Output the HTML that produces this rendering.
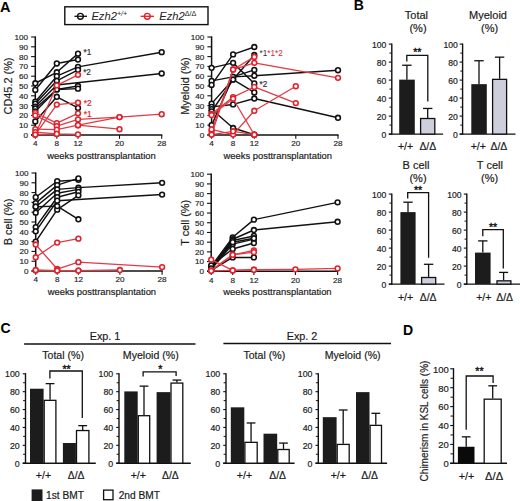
<!DOCTYPE html>
<html><head><meta charset="utf-8"><title>Figure</title>
<style>
html,body{margin:0;padding:0;background:#fff;}
body{width:520px;height:501px;overflow:hidden;}
svg{display:block;font-family:"Liberation Sans",sans-serif;}
</style></head>
<body>
<svg width="520" height="501" viewBox="0 0 520 501">
<rect width="520" height="501" fill="#fff"/>
<line x1="35.3" y1="36.4" x2="35.3" y2="135.6" stroke="#111" stroke-width="1.5"/>
<line x1="31.1" y1="135" x2="162.3" y2="135" stroke="#111" stroke-width="1.4"/>
<line x1="31.1" y1="135" x2="35.3" y2="135" stroke="#111" stroke-width="1.1"/>
<text x="28" y="137.9" font-size="8.1" text-anchor="end" fill="#262626" stroke="#262626" stroke-width="0.18">0</text>
<line x1="31.1" y1="125.2" x2="35.3" y2="125.2" stroke="#111" stroke-width="1.1"/>
<text x="28" y="128.1" font-size="8.1" text-anchor="end" fill="#262626" stroke="#262626" stroke-width="0.18">10</text>
<line x1="31.1" y1="115.4" x2="35.3" y2="115.4" stroke="#111" stroke-width="1.1"/>
<text x="28" y="118.3" font-size="8.1" text-anchor="end" fill="#262626" stroke="#262626" stroke-width="0.18">20</text>
<line x1="31.1" y1="105.6" x2="35.3" y2="105.6" stroke="#111" stroke-width="1.1"/>
<text x="28" y="108.5" font-size="8.1" text-anchor="end" fill="#262626" stroke="#262626" stroke-width="0.18">30</text>
<line x1="31.1" y1="95.8" x2="35.3" y2="95.8" stroke="#111" stroke-width="1.1"/>
<text x="28" y="98.7" font-size="8.1" text-anchor="end" fill="#262626" stroke="#262626" stroke-width="0.18">40</text>
<line x1="31.1" y1="86" x2="35.3" y2="86" stroke="#111" stroke-width="1.1"/>
<text x="28" y="88.9" font-size="8.1" text-anchor="end" fill="#262626" stroke="#262626" stroke-width="0.18">50</text>
<line x1="31.1" y1="76.2" x2="35.3" y2="76.2" stroke="#111" stroke-width="1.1"/>
<text x="28" y="79.1" font-size="8.1" text-anchor="end" fill="#262626" stroke="#262626" stroke-width="0.18">60</text>
<line x1="31.1" y1="66.4" x2="35.3" y2="66.4" stroke="#111" stroke-width="1.1"/>
<text x="28" y="69.3" font-size="8.1" text-anchor="end" fill="#262626" stroke="#262626" stroke-width="0.18">70</text>
<line x1="31.1" y1="56.6" x2="35.3" y2="56.6" stroke="#111" stroke-width="1.1"/>
<text x="28" y="59.5" font-size="8.1" text-anchor="end" fill="#262626" stroke="#262626" stroke-width="0.18">80</text>
<line x1="31.1" y1="46.8" x2="35.3" y2="46.8" stroke="#111" stroke-width="1.1"/>
<text x="28" y="49.7" font-size="8.1" text-anchor="end" fill="#262626" stroke="#262626" stroke-width="0.18">90</text>
<line x1="31.1" y1="37" x2="35.3" y2="37" stroke="#111" stroke-width="1.1"/>
<text x="28" y="39.9" font-size="8.1" text-anchor="end" fill="#262626" stroke="#262626" stroke-width="0.18">100</text>
<line x1="35.3" y1="135" x2="35.3" y2="138.8" stroke="#111" stroke-width="1.1"/>
<text x="35.3" y="146.3" font-size="8.1" text-anchor="middle" fill="#262626" stroke="#262626" stroke-width="0.18">4</text>
<line x1="56.8" y1="135" x2="56.8" y2="138.8" stroke="#111" stroke-width="1.1"/>
<text x="56.8" y="146.3" font-size="8.1" text-anchor="middle" fill="#262626" stroke="#262626" stroke-width="0.18">8</text>
<line x1="78" y1="135" x2="78" y2="138.8" stroke="#111" stroke-width="1.1"/>
<text x="78" y="146.3" font-size="8.1" text-anchor="middle" fill="#262626" stroke="#262626" stroke-width="0.18">12</text>
<line x1="119.5" y1="135" x2="119.5" y2="138.8" stroke="#111" stroke-width="1.1"/>
<text x="119.5" y="146.3" font-size="8.1" text-anchor="middle" fill="#262626" stroke="#262626" stroke-width="0.18">20</text>
<line x1="161.7" y1="135" x2="161.7" y2="138.8" stroke="#111" stroke-width="1.1"/>
<text x="161.7" y="146.3" font-size="8.1" text-anchor="middle" fill="#262626" stroke="#262626" stroke-width="0.18">28</text>
<text x="101.5" y="159.1" font-size="9.4" text-anchor="middle" fill="#1a1a1a" stroke="#1a1a1a" stroke-width="0.18">weeks posttransplantation</text>
<text x="12" y="86" font-size="10.9" text-anchor="middle" fill="#1a1a1a" stroke="#1a1a1a" stroke-width="0.18" transform="rotate(-90 12 86)">CD45.2 (%)</text>
<path d="M35.3,89.92 L56.8,63.46 L78,59.54" fill="none" stroke="#111" stroke-width="1.45" stroke-linejoin="round"/>
<path d="M35.3,83.26 L56.8,72.28 L78,53.66" fill="none" stroke="#111" stroke-width="1.45" stroke-linejoin="round"/>
<path d="M35.3,101.68 L56.8,76.2 L78,66.89 L161.7,52.19" fill="none" stroke="#111" stroke-width="1.45" stroke-linejoin="round"/>
<path d="M35.3,103.64 L56.8,80.81 L78,69.83" fill="none" stroke="#111" stroke-width="1.45" stroke-linejoin="round"/>
<path d="M35.3,106.58 L56.8,85.02 L161.7,73.46" fill="none" stroke="#111" stroke-width="1.45" stroke-linejoin="round"/>
<path d="M35.3,108.54 L56.8,89.43 L78,86" fill="none" stroke="#111" stroke-width="1.45" stroke-linejoin="round"/>
<path d="M35.3,111.48 L56.8,89.43 L78,88.65" fill="none" stroke="#111" stroke-width="1.45" stroke-linejoin="round"/>
<path d="M35.3,121.48 L56.8,96.78 L78,107.95" fill="none" stroke="#111" stroke-width="1.45" stroke-linejoin="round"/>
<circle cx="35.3" cy="89.92" r="2.4" fill="#fff" stroke="#111" stroke-width="1.55"/>
<circle cx="56.8" cy="63.46" r="2.4" fill="#fff" stroke="#111" stroke-width="1.55"/>
<circle cx="78" cy="59.54" r="2.4" fill="#fff" stroke="#111" stroke-width="1.55"/>
<circle cx="35.3" cy="83.26" r="2.4" fill="#fff" stroke="#111" stroke-width="1.55"/>
<circle cx="56.8" cy="72.28" r="2.4" fill="#fff" stroke="#111" stroke-width="1.55"/>
<circle cx="78" cy="53.66" r="2.4" fill="#fff" stroke="#111" stroke-width="1.55"/>
<circle cx="35.3" cy="101.68" r="2.4" fill="#fff" stroke="#111" stroke-width="1.55"/>
<circle cx="56.8" cy="76.2" r="2.4" fill="#fff" stroke="#111" stroke-width="1.55"/>
<circle cx="78" cy="66.89" r="2.4" fill="#fff" stroke="#111" stroke-width="1.55"/>
<circle cx="161.7" cy="52.19" r="2.4" fill="#fff" stroke="#111" stroke-width="1.55"/>
<circle cx="35.3" cy="103.64" r="2.4" fill="#fff" stroke="#111" stroke-width="1.55"/>
<circle cx="56.8" cy="80.81" r="2.4" fill="#fff" stroke="#111" stroke-width="1.55"/>
<circle cx="78" cy="69.83" r="2.4" fill="#fff" stroke="#111" stroke-width="1.55"/>
<circle cx="35.3" cy="106.58" r="2.4" fill="#fff" stroke="#111" stroke-width="1.55"/>
<circle cx="56.8" cy="85.02" r="2.4" fill="#fff" stroke="#111" stroke-width="1.55"/>
<circle cx="161.7" cy="73.46" r="2.4" fill="#fff" stroke="#111" stroke-width="1.55"/>
<circle cx="35.3" cy="108.54" r="2.4" fill="#fff" stroke="#111" stroke-width="1.55"/>
<circle cx="56.8" cy="89.43" r="2.4" fill="#fff" stroke="#111" stroke-width="1.55"/>
<circle cx="78" cy="86" r="2.4" fill="#fff" stroke="#111" stroke-width="1.55"/>
<circle cx="35.3" cy="111.48" r="2.4" fill="#fff" stroke="#111" stroke-width="1.55"/>
<circle cx="56.8" cy="89.43" r="2.4" fill="#fff" stroke="#111" stroke-width="1.55"/>
<circle cx="78" cy="88.65" r="2.4" fill="#fff" stroke="#111" stroke-width="1.55"/>
<circle cx="35.3" cy="121.48" r="2.4" fill="#fff" stroke="#111" stroke-width="1.55"/>
<circle cx="56.8" cy="96.78" r="2.4" fill="#fff" stroke="#111" stroke-width="1.55"/>
<circle cx="78" cy="107.95" r="2.4" fill="#fff" stroke="#111" stroke-width="1.55"/>
<path d="M35.3,134.61 L56.8,85.41 L78,74.83" fill="none" stroke="#e23a44" stroke-width="1.3" stroke-linejoin="round"/>
<path d="M35.3,134.61 L56.8,104.62 L78,102.66" fill="none" stroke="#e23a44" stroke-width="1.3" stroke-linejoin="round"/>
<path d="M35.3,112.95 L56.8,123.14 L78,113.34" fill="none" stroke="#e23a44" stroke-width="1.3" stroke-linejoin="round"/>
<path d="M35.3,115.4 L56.8,126.18 L78,119.42 L119.5,117.07 L161.7,114.22" fill="none" stroke="#e23a44" stroke-width="1.3" stroke-linejoin="round"/>
<path d="M35.3,129.12 L56.8,129.71 L78,125.2 L119.5,129.22" fill="none" stroke="#e23a44" stroke-width="1.3" stroke-linejoin="round"/>
<path d="M78,125.2 L119.5,117.07" fill="none" stroke="#e23a44" stroke-width="1.3" stroke-linejoin="round"/>
<path d="M35.3,132.06 L56.8,133.92 L78,134.41" fill="none" stroke="#e23a44" stroke-width="1.3" stroke-linejoin="round"/>
<path d="M35.3,134.61 L56.8,133.92" fill="none" stroke="#e23a44" stroke-width="1.3" stroke-linejoin="round"/>
<circle cx="35.3" cy="134.61" r="2.4" fill="#fff" stroke="#e0222c" stroke-width="1.55"/>
<circle cx="56.8" cy="85.41" r="2.4" fill="#fff" stroke="#e0222c" stroke-width="1.55"/>
<circle cx="78" cy="74.83" r="2.4" fill="#fff" stroke="#e0222c" stroke-width="1.55"/>
<circle cx="35.3" cy="134.61" r="2.4" fill="#fff" stroke="#e0222c" stroke-width="1.55"/>
<circle cx="56.8" cy="104.62" r="2.4" fill="#fff" stroke="#e0222c" stroke-width="1.55"/>
<circle cx="78" cy="102.66" r="2.4" fill="#fff" stroke="#e0222c" stroke-width="1.55"/>
<circle cx="35.3" cy="112.95" r="2.4" fill="#fff" stroke="#e0222c" stroke-width="1.55"/>
<circle cx="56.8" cy="123.14" r="2.4" fill="#fff" stroke="#e0222c" stroke-width="1.55"/>
<circle cx="78" cy="113.34" r="2.4" fill="#fff" stroke="#e0222c" stroke-width="1.55"/>
<circle cx="35.3" cy="115.4" r="2.4" fill="#fff" stroke="#e0222c" stroke-width="1.55"/>
<circle cx="56.8" cy="126.18" r="2.4" fill="#fff" stroke="#e0222c" stroke-width="1.55"/>
<circle cx="78" cy="119.42" r="2.4" fill="#fff" stroke="#e0222c" stroke-width="1.55"/>
<circle cx="119.5" cy="117.07" r="2.4" fill="#fff" stroke="#e0222c" stroke-width="1.55"/>
<circle cx="161.7" cy="114.22" r="2.4" fill="#fff" stroke="#e0222c" stroke-width="1.55"/>
<circle cx="35.3" cy="129.12" r="2.4" fill="#fff" stroke="#e0222c" stroke-width="1.55"/>
<circle cx="56.8" cy="129.71" r="2.4" fill="#fff" stroke="#e0222c" stroke-width="1.55"/>
<circle cx="78" cy="125.2" r="2.4" fill="#fff" stroke="#e0222c" stroke-width="1.55"/>
<circle cx="119.5" cy="129.22" r="2.4" fill="#fff" stroke="#e0222c" stroke-width="1.55"/>
<circle cx="78" cy="125.2" r="2.4" fill="#fff" stroke="#e0222c" stroke-width="1.55"/>
<circle cx="119.5" cy="117.07" r="2.4" fill="#fff" stroke="#e0222c" stroke-width="1.55"/>
<circle cx="35.3" cy="132.06" r="2.4" fill="#fff" stroke="#e0222c" stroke-width="1.55"/>
<circle cx="56.8" cy="133.92" r="2.4" fill="#fff" stroke="#e0222c" stroke-width="1.55"/>
<circle cx="78" cy="134.41" r="2.4" fill="#fff" stroke="#e0222c" stroke-width="1.55"/>
<circle cx="35.3" cy="134.61" r="2.4" fill="#fff" stroke="#e0222c" stroke-width="1.55"/>
<circle cx="56.8" cy="133.92" r="2.4" fill="#fff" stroke="#e0222c" stroke-width="1.55"/>
<text x="83.6" y="54.56" font-size="8.2" text-anchor="start" fill="#333" stroke="#333" stroke-width="0.18">*1</text>
<text x="83.2" y="75.3" font-size="8.2" text-anchor="start" fill="#333" stroke="#333" stroke-width="0.18">*2</text>
<text x="83.8" y="106.16" font-size="8.4" text-anchor="start" fill="#e0222c" stroke="#e0222c" stroke-width="0.18">*2</text>
<text x="83.8" y="116.84" font-size="8.4" text-anchor="start" fill="#e0222c" stroke="#e0222c" stroke-width="0.18">*1</text>
<line x1="211.6" y1="36.4" x2="211.6" y2="135.6" stroke="#111" stroke-width="1.5"/>
<line x1="207.4" y1="135" x2="338.6" y2="135" stroke="#111" stroke-width="1.4"/>
<line x1="207.4" y1="135" x2="211.6" y2="135" stroke="#111" stroke-width="1.1"/>
<text x="204.3" y="137.9" font-size="8.1" text-anchor="end" fill="#262626" stroke="#262626" stroke-width="0.18">0</text>
<line x1="207.4" y1="125.2" x2="211.6" y2="125.2" stroke="#111" stroke-width="1.1"/>
<text x="204.3" y="128.1" font-size="8.1" text-anchor="end" fill="#262626" stroke="#262626" stroke-width="0.18">10</text>
<line x1="207.4" y1="115.4" x2="211.6" y2="115.4" stroke="#111" stroke-width="1.1"/>
<text x="204.3" y="118.3" font-size="8.1" text-anchor="end" fill="#262626" stroke="#262626" stroke-width="0.18">20</text>
<line x1="207.4" y1="105.6" x2="211.6" y2="105.6" stroke="#111" stroke-width="1.1"/>
<text x="204.3" y="108.5" font-size="8.1" text-anchor="end" fill="#262626" stroke="#262626" stroke-width="0.18">30</text>
<line x1="207.4" y1="95.8" x2="211.6" y2="95.8" stroke="#111" stroke-width="1.1"/>
<text x="204.3" y="98.7" font-size="8.1" text-anchor="end" fill="#262626" stroke="#262626" stroke-width="0.18">40</text>
<line x1="207.4" y1="86" x2="211.6" y2="86" stroke="#111" stroke-width="1.1"/>
<text x="204.3" y="88.9" font-size="8.1" text-anchor="end" fill="#262626" stroke="#262626" stroke-width="0.18">50</text>
<line x1="207.4" y1="76.2" x2="211.6" y2="76.2" stroke="#111" stroke-width="1.1"/>
<text x="204.3" y="79.1" font-size="8.1" text-anchor="end" fill="#262626" stroke="#262626" stroke-width="0.18">60</text>
<line x1="207.4" y1="66.4" x2="211.6" y2="66.4" stroke="#111" stroke-width="1.1"/>
<text x="204.3" y="69.3" font-size="8.1" text-anchor="end" fill="#262626" stroke="#262626" stroke-width="0.18">70</text>
<line x1="207.4" y1="56.6" x2="211.6" y2="56.6" stroke="#111" stroke-width="1.1"/>
<text x="204.3" y="59.5" font-size="8.1" text-anchor="end" fill="#262626" stroke="#262626" stroke-width="0.18">80</text>
<line x1="207.4" y1="46.8" x2="211.6" y2="46.8" stroke="#111" stroke-width="1.1"/>
<text x="204.3" y="49.7" font-size="8.1" text-anchor="end" fill="#262626" stroke="#262626" stroke-width="0.18">90</text>
<line x1="207.4" y1="37" x2="211.6" y2="37" stroke="#111" stroke-width="1.1"/>
<text x="204.3" y="39.9" font-size="8.1" text-anchor="end" fill="#262626" stroke="#262626" stroke-width="0.18">100</text>
<line x1="211.6" y1="135" x2="211.6" y2="138.8" stroke="#111" stroke-width="1.1"/>
<text x="211.6" y="146.3" font-size="8.1" text-anchor="middle" fill="#262626" stroke="#262626" stroke-width="0.18">4</text>
<line x1="233.1" y1="135" x2="233.1" y2="138.8" stroke="#111" stroke-width="1.1"/>
<text x="233.1" y="146.3" font-size="8.1" text-anchor="middle" fill="#262626" stroke="#262626" stroke-width="0.18">8</text>
<line x1="254.3" y1="135" x2="254.3" y2="138.8" stroke="#111" stroke-width="1.1"/>
<text x="254.3" y="146.3" font-size="8.1" text-anchor="middle" fill="#262626" stroke="#262626" stroke-width="0.18">12</text>
<line x1="295.8" y1="135" x2="295.8" y2="138.8" stroke="#111" stroke-width="1.1"/>
<text x="295.8" y="146.3" font-size="8.1" text-anchor="middle" fill="#262626" stroke="#262626" stroke-width="0.18">20</text>
<line x1="338" y1="135" x2="338" y2="138.8" stroke="#111" stroke-width="1.1"/>
<text x="338" y="146.3" font-size="8.1" text-anchor="middle" fill="#262626" stroke="#262626" stroke-width="0.18">28</text>
<text x="277.8" y="159.1" font-size="9.4" text-anchor="middle" fill="#1a1a1a" stroke="#1a1a1a" stroke-width="0.18">weeks posttransplantation</text>
<text x="188.5" y="86" font-size="10.9" text-anchor="middle" fill="#1a1a1a" stroke="#1a1a1a" stroke-width="0.18" transform="rotate(-90 188.5 86)">Myeloid (%)</text>
<path d="M211.6,67.87 L233.1,62.87 L254.3,83.45" fill="none" stroke="#111" stroke-width="1.45" stroke-linejoin="round"/>
<path d="M211.6,80.9 L233.1,76.89 L254.3,75.71 L338,70.22" fill="none" stroke="#111" stroke-width="1.45" stroke-linejoin="round"/>
<path d="M211.6,84.92 L233.1,54.44 L254.3,47" fill="none" stroke="#111" stroke-width="1.45" stroke-linejoin="round"/>
<path d="M211.6,103.64 L233.1,79.53 L254.3,55.03" fill="none" stroke="#111" stroke-width="1.45" stroke-linejoin="round"/>
<path d="M211.6,106.87 L233.1,104.42 L254.3,98.54 L338,117.75" fill="none" stroke="#111" stroke-width="1.45" stroke-linejoin="round"/>
<path d="M211.6,109.23 L233.1,128.04 L254.3,134.71" fill="none" stroke="#111" stroke-width="1.45" stroke-linejoin="round"/>
<path d="M211.6,125.2 L233.1,76.89 L254.3,69.93" fill="none" stroke="#111" stroke-width="1.45" stroke-linejoin="round"/>
<path d="M211.6,111.48 L233.1,79.53 L254.3,92.47" fill="none" stroke="#111" stroke-width="1.45" stroke-linejoin="round"/>
<circle cx="211.6" cy="67.87" r="2.4" fill="#fff" stroke="#111" stroke-width="1.55"/>
<circle cx="233.1" cy="62.87" r="2.4" fill="#fff" stroke="#111" stroke-width="1.55"/>
<circle cx="254.3" cy="83.45" r="2.4" fill="#fff" stroke="#111" stroke-width="1.55"/>
<circle cx="211.6" cy="80.9" r="2.4" fill="#fff" stroke="#111" stroke-width="1.55"/>
<circle cx="233.1" cy="76.89" r="2.4" fill="#fff" stroke="#111" stroke-width="1.55"/>
<circle cx="254.3" cy="75.71" r="2.4" fill="#fff" stroke="#111" stroke-width="1.55"/>
<circle cx="338" cy="70.22" r="2.4" fill="#fff" stroke="#111" stroke-width="1.55"/>
<circle cx="211.6" cy="84.92" r="2.4" fill="#fff" stroke="#111" stroke-width="1.55"/>
<circle cx="233.1" cy="54.44" r="2.4" fill="#fff" stroke="#111" stroke-width="1.55"/>
<circle cx="254.3" cy="47" r="2.4" fill="#fff" stroke="#111" stroke-width="1.55"/>
<circle cx="211.6" cy="103.64" r="2.4" fill="#fff" stroke="#111" stroke-width="1.55"/>
<circle cx="233.1" cy="79.53" r="2.4" fill="#fff" stroke="#111" stroke-width="1.55"/>
<circle cx="254.3" cy="55.03" r="2.4" fill="#fff" stroke="#111" stroke-width="1.55"/>
<circle cx="211.6" cy="106.87" r="2.4" fill="#fff" stroke="#111" stroke-width="1.55"/>
<circle cx="233.1" cy="104.42" r="2.4" fill="#fff" stroke="#111" stroke-width="1.55"/>
<circle cx="254.3" cy="98.54" r="2.4" fill="#fff" stroke="#111" stroke-width="1.55"/>
<circle cx="338" cy="117.75" r="2.4" fill="#fff" stroke="#111" stroke-width="1.55"/>
<circle cx="211.6" cy="109.23" r="2.4" fill="#fff" stroke="#111" stroke-width="1.55"/>
<circle cx="233.1" cy="128.04" r="2.4" fill="#fff" stroke="#111" stroke-width="1.55"/>
<circle cx="254.3" cy="134.71" r="2.4" fill="#fff" stroke="#111" stroke-width="1.55"/>
<circle cx="211.6" cy="125.2" r="2.4" fill="#fff" stroke="#111" stroke-width="1.55"/>
<circle cx="233.1" cy="76.89" r="2.4" fill="#fff" stroke="#111" stroke-width="1.55"/>
<circle cx="254.3" cy="69.93" r="2.4" fill="#fff" stroke="#111" stroke-width="1.55"/>
<circle cx="211.6" cy="111.48" r="2.4" fill="#fff" stroke="#111" stroke-width="1.55"/>
<circle cx="233.1" cy="79.53" r="2.4" fill="#fff" stroke="#111" stroke-width="1.55"/>
<circle cx="254.3" cy="92.47" r="2.4" fill="#fff" stroke="#111" stroke-width="1.55"/>
<path d="M211.6,134.61 L233.1,69.54 L254.3,56.89" fill="none" stroke="#e23a44" stroke-width="1.3" stroke-linejoin="round"/>
<path d="M211.6,131.28 L233.1,69.54 L254.3,62.87 L338,77.87" fill="none" stroke="#e23a44" stroke-width="1.3" stroke-linejoin="round"/>
<path d="M211.6,114.03 L233.1,97.07 L254.3,86.98 L295.8,103.05" fill="none" stroke="#e23a44" stroke-width="1.3" stroke-linejoin="round"/>
<path d="M211.6,115.01 L233.1,98.74 L254.3,134.71" fill="none" stroke="#e23a44" stroke-width="1.3" stroke-linejoin="round"/>
<path d="M211.6,129.41 L233.1,134.61 L254.3,110.79 L295.8,86.2" fill="none" stroke="#e23a44" stroke-width="1.3" stroke-linejoin="round"/>
<path d="M211.6,134.61 L233.1,131.28 L254.3,134.71" fill="none" stroke="#e23a44" stroke-width="1.3" stroke-linejoin="round"/>
<circle cx="211.6" cy="134.61" r="2.4" fill="#fff" stroke="#e0222c" stroke-width="1.55"/>
<circle cx="233.1" cy="69.54" r="2.4" fill="#fff" stroke="#e0222c" stroke-width="1.55"/>
<circle cx="254.3" cy="56.89" r="2.4" fill="#fff" stroke="#e0222c" stroke-width="1.55"/>
<circle cx="211.6" cy="131.28" r="2.4" fill="#fff" stroke="#e0222c" stroke-width="1.55"/>
<circle cx="233.1" cy="69.54" r="2.4" fill="#fff" stroke="#e0222c" stroke-width="1.55"/>
<circle cx="254.3" cy="62.87" r="2.4" fill="#fff" stroke="#e0222c" stroke-width="1.55"/>
<circle cx="338" cy="77.87" r="2.4" fill="#fff" stroke="#e0222c" stroke-width="1.55"/>
<circle cx="211.6" cy="114.03" r="2.4" fill="#fff" stroke="#e0222c" stroke-width="1.55"/>
<circle cx="233.1" cy="97.07" r="2.4" fill="#fff" stroke="#e0222c" stroke-width="1.55"/>
<circle cx="254.3" cy="86.98" r="2.4" fill="#fff" stroke="#e0222c" stroke-width="1.55"/>
<circle cx="295.8" cy="103.05" r="2.4" fill="#fff" stroke="#e0222c" stroke-width="1.55"/>
<circle cx="211.6" cy="115.01" r="2.4" fill="#fff" stroke="#e0222c" stroke-width="1.55"/>
<circle cx="233.1" cy="98.74" r="2.4" fill="#fff" stroke="#e0222c" stroke-width="1.55"/>
<circle cx="254.3" cy="134.71" r="2.4" fill="#fff" stroke="#e0222c" stroke-width="1.55"/>
<circle cx="211.6" cy="129.41" r="2.4" fill="#fff" stroke="#e0222c" stroke-width="1.55"/>
<circle cx="233.1" cy="134.61" r="2.4" fill="#fff" stroke="#e0222c" stroke-width="1.55"/>
<circle cx="254.3" cy="110.79" r="2.4" fill="#fff" stroke="#e0222c" stroke-width="1.55"/>
<circle cx="295.8" cy="86.2" r="2.4" fill="#fff" stroke="#e0222c" stroke-width="1.55"/>
<circle cx="211.6" cy="134.61" r="2.4" fill="#fff" stroke="#e0222c" stroke-width="1.55"/>
<circle cx="233.1" cy="131.28" r="2.4" fill="#fff" stroke="#e0222c" stroke-width="1.55"/>
<circle cx="254.3" cy="134.71" r="2.4" fill="#fff" stroke="#e0222c" stroke-width="1.55"/>
<text x="259.5" y="56.18" font-size="8.2" fill="#333">*1<tspan fill="#e0222c">*1*2</tspan></text>
<text x="259.5" y="86.95" font-size="8.2" text-anchor="start" fill="#333" stroke="#333" stroke-width="0.18">*2</text>
<line x1="35.7" y1="172.4" x2="35.7" y2="271.6" stroke="#111" stroke-width="1.5"/>
<line x1="31.5" y1="271" x2="162.7" y2="271" stroke="#111" stroke-width="1.4"/>
<line x1="31.5" y1="271" x2="35.7" y2="271" stroke="#111" stroke-width="1.1"/>
<text x="28.4" y="273.9" font-size="8.1" text-anchor="end" fill="#262626" stroke="#262626" stroke-width="0.18">0</text>
<line x1="31.5" y1="261.2" x2="35.7" y2="261.2" stroke="#111" stroke-width="1.1"/>
<text x="28.4" y="264.1" font-size="8.1" text-anchor="end" fill="#262626" stroke="#262626" stroke-width="0.18">10</text>
<line x1="31.5" y1="251.4" x2="35.7" y2="251.4" stroke="#111" stroke-width="1.1"/>
<text x="28.4" y="254.3" font-size="8.1" text-anchor="end" fill="#262626" stroke="#262626" stroke-width="0.18">20</text>
<line x1="31.5" y1="241.6" x2="35.7" y2="241.6" stroke="#111" stroke-width="1.1"/>
<text x="28.4" y="244.5" font-size="8.1" text-anchor="end" fill="#262626" stroke="#262626" stroke-width="0.18">30</text>
<line x1="31.5" y1="231.8" x2="35.7" y2="231.8" stroke="#111" stroke-width="1.1"/>
<text x="28.4" y="234.7" font-size="8.1" text-anchor="end" fill="#262626" stroke="#262626" stroke-width="0.18">40</text>
<line x1="31.5" y1="222" x2="35.7" y2="222" stroke="#111" stroke-width="1.1"/>
<text x="28.4" y="224.9" font-size="8.1" text-anchor="end" fill="#262626" stroke="#262626" stroke-width="0.18">50</text>
<line x1="31.5" y1="212.2" x2="35.7" y2="212.2" stroke="#111" stroke-width="1.1"/>
<text x="28.4" y="215.1" font-size="8.1" text-anchor="end" fill="#262626" stroke="#262626" stroke-width="0.18">60</text>
<line x1="31.5" y1="202.4" x2="35.7" y2="202.4" stroke="#111" stroke-width="1.1"/>
<text x="28.4" y="205.3" font-size="8.1" text-anchor="end" fill="#262626" stroke="#262626" stroke-width="0.18">70</text>
<line x1="31.5" y1="192.6" x2="35.7" y2="192.6" stroke="#111" stroke-width="1.1"/>
<text x="28.4" y="195.5" font-size="8.1" text-anchor="end" fill="#262626" stroke="#262626" stroke-width="0.18">80</text>
<line x1="31.5" y1="182.8" x2="35.7" y2="182.8" stroke="#111" stroke-width="1.1"/>
<text x="28.4" y="185.7" font-size="8.1" text-anchor="end" fill="#262626" stroke="#262626" stroke-width="0.18">90</text>
<line x1="31.5" y1="173" x2="35.7" y2="173" stroke="#111" stroke-width="1.1"/>
<text x="28.4" y="175.9" font-size="8.1" text-anchor="end" fill="#262626" stroke="#262626" stroke-width="0.18">100</text>
<line x1="35.7" y1="271" x2="35.7" y2="274.8" stroke="#111" stroke-width="1.1"/>
<text x="35.7" y="282.3" font-size="8.1" text-anchor="middle" fill="#262626" stroke="#262626" stroke-width="0.18">4</text>
<line x1="57.2" y1="271" x2="57.2" y2="274.8" stroke="#111" stroke-width="1.1"/>
<text x="57.2" y="282.3" font-size="8.1" text-anchor="middle" fill="#262626" stroke="#262626" stroke-width="0.18">8</text>
<line x1="78.4" y1="271" x2="78.4" y2="274.8" stroke="#111" stroke-width="1.1"/>
<text x="78.4" y="282.3" font-size="8.1" text-anchor="middle" fill="#262626" stroke="#262626" stroke-width="0.18">12</text>
<line x1="119.9" y1="271" x2="119.9" y2="274.8" stroke="#111" stroke-width="1.1"/>
<text x="119.9" y="282.3" font-size="8.1" text-anchor="middle" fill="#262626" stroke="#262626" stroke-width="0.18">20</text>
<line x1="162.1" y1="271" x2="162.1" y2="274.8" stroke="#111" stroke-width="1.1"/>
<text x="162.1" y="282.3" font-size="8.1" text-anchor="middle" fill="#262626" stroke="#262626" stroke-width="0.18">28</text>
<text x="101.9" y="295.1" font-size="9.4" text-anchor="middle" fill="#1a1a1a" stroke="#1a1a1a" stroke-width="0.18">weeks posttransplantation</text>
<text x="12.2" y="222" font-size="10.9" text-anchor="middle" fill="#1a1a1a" stroke="#1a1a1a" stroke-width="0.18" transform="rotate(-90 12.2 222)">B cell (%)</text>
<path d="M35.7,197.21 L57.2,181.23 L78.4,179.86" fill="none" stroke="#111" stroke-width="1.45" stroke-linejoin="round"/>
<path d="M35.7,203.09 L57.2,185.15 L78.4,178.39" fill="none" stroke="#111" stroke-width="1.45" stroke-linejoin="round"/>
<path d="M35.7,206.71 L57.2,189.37 L78.4,187.6 L162.1,182.8" fill="none" stroke="#111" stroke-width="1.45" stroke-linejoin="round"/>
<path d="M35.7,212.69 L57.2,193.19 L78.4,189.37" fill="none" stroke="#111" stroke-width="1.45" stroke-linejoin="round"/>
<path d="M35.7,227.1 L57.2,197.21 L78.4,191.82" fill="none" stroke="#111" stroke-width="1.45" stroke-linejoin="round"/>
<path d="M35.7,231.31 L57.2,200.73 L162.1,194.56" fill="none" stroke="#111" stroke-width="1.45" stroke-linejoin="round"/>
<path d="M35.7,241.6 L57.2,209.65 L78.4,195.34" fill="none" stroke="#111" stroke-width="1.45" stroke-linejoin="round"/>
<path d="M35.7,206.71 L57.2,206.12 L78.4,219.26" fill="none" stroke="#111" stroke-width="1.45" stroke-linejoin="round"/>
<circle cx="35.7" cy="197.21" r="2.4" fill="#fff" stroke="#111" stroke-width="1.55"/>
<circle cx="57.2" cy="181.23" r="2.4" fill="#fff" stroke="#111" stroke-width="1.55"/>
<circle cx="78.4" cy="179.86" r="2.4" fill="#fff" stroke="#111" stroke-width="1.55"/>
<circle cx="35.7" cy="203.09" r="2.4" fill="#fff" stroke="#111" stroke-width="1.55"/>
<circle cx="57.2" cy="185.15" r="2.4" fill="#fff" stroke="#111" stroke-width="1.55"/>
<circle cx="78.4" cy="178.39" r="2.4" fill="#fff" stroke="#111" stroke-width="1.55"/>
<circle cx="35.7" cy="206.71" r="2.4" fill="#fff" stroke="#111" stroke-width="1.55"/>
<circle cx="57.2" cy="189.37" r="2.4" fill="#fff" stroke="#111" stroke-width="1.55"/>
<circle cx="78.4" cy="187.6" r="2.4" fill="#fff" stroke="#111" stroke-width="1.55"/>
<circle cx="162.1" cy="182.8" r="2.4" fill="#fff" stroke="#111" stroke-width="1.55"/>
<circle cx="35.7" cy="212.69" r="2.4" fill="#fff" stroke="#111" stroke-width="1.55"/>
<circle cx="57.2" cy="193.19" r="2.4" fill="#fff" stroke="#111" stroke-width="1.55"/>
<circle cx="78.4" cy="189.37" r="2.4" fill="#fff" stroke="#111" stroke-width="1.55"/>
<circle cx="35.7" cy="227.1" r="2.4" fill="#fff" stroke="#111" stroke-width="1.55"/>
<circle cx="57.2" cy="197.21" r="2.4" fill="#fff" stroke="#111" stroke-width="1.55"/>
<circle cx="78.4" cy="191.82" r="2.4" fill="#fff" stroke="#111" stroke-width="1.55"/>
<circle cx="35.7" cy="231.31" r="2.4" fill="#fff" stroke="#111" stroke-width="1.55"/>
<circle cx="57.2" cy="200.73" r="2.4" fill="#fff" stroke="#111" stroke-width="1.55"/>
<circle cx="162.1" cy="194.56" r="2.4" fill="#fff" stroke="#111" stroke-width="1.55"/>
<circle cx="35.7" cy="241.6" r="2.4" fill="#fff" stroke="#111" stroke-width="1.55"/>
<circle cx="57.2" cy="209.65" r="2.4" fill="#fff" stroke="#111" stroke-width="1.55"/>
<circle cx="78.4" cy="195.34" r="2.4" fill="#fff" stroke="#111" stroke-width="1.55"/>
<circle cx="35.7" cy="206.71" r="2.4" fill="#fff" stroke="#111" stroke-width="1.55"/>
<circle cx="57.2" cy="206.12" r="2.4" fill="#fff" stroke="#111" stroke-width="1.55"/>
<circle cx="78.4" cy="219.26" r="2.4" fill="#fff" stroke="#111" stroke-width="1.55"/>
<path d="M35.7,257.28 L57.2,242.58 L78.4,238.66" fill="none" stroke="#e23a44" stroke-width="1.3" stroke-linejoin="round"/>
<path d="M35.7,244.54 L57.2,269.04 L78.4,262.18 L162.1,267.08" fill="none" stroke="#e23a44" stroke-width="1.3" stroke-linejoin="round"/>
<path d="M35.7,270.61 L57.2,270.61 L78.4,270.61 L119.9,270.02" fill="none" stroke="#e23a44" stroke-width="1.3" stroke-linejoin="round"/>
<path d="M35.7,270.02 L57.2,270.61 L78.4,270.61" fill="none" stroke="#e23a44" stroke-width="1.3" stroke-linejoin="round"/>
<circle cx="35.7" cy="257.28" r="2.4" fill="#fff" stroke="#e0222c" stroke-width="1.55"/>
<circle cx="57.2" cy="242.58" r="2.4" fill="#fff" stroke="#e0222c" stroke-width="1.55"/>
<circle cx="78.4" cy="238.66" r="2.4" fill="#fff" stroke="#e0222c" stroke-width="1.55"/>
<circle cx="35.7" cy="244.54" r="2.4" fill="#fff" stroke="#e0222c" stroke-width="1.55"/>
<circle cx="57.2" cy="269.04" r="2.4" fill="#fff" stroke="#e0222c" stroke-width="1.55"/>
<circle cx="78.4" cy="262.18" r="2.4" fill="#fff" stroke="#e0222c" stroke-width="1.55"/>
<circle cx="162.1" cy="267.08" r="2.4" fill="#fff" stroke="#e0222c" stroke-width="1.55"/>
<circle cx="35.7" cy="270.61" r="2.4" fill="#fff" stroke="#e0222c" stroke-width="1.55"/>
<circle cx="57.2" cy="270.61" r="2.4" fill="#fff" stroke="#e0222c" stroke-width="1.55"/>
<circle cx="78.4" cy="270.61" r="2.4" fill="#fff" stroke="#e0222c" stroke-width="1.55"/>
<circle cx="119.9" cy="270.02" r="2.4" fill="#fff" stroke="#e0222c" stroke-width="1.55"/>
<circle cx="35.7" cy="270.02" r="2.4" fill="#fff" stroke="#e0222c" stroke-width="1.55"/>
<circle cx="57.2" cy="270.61" r="2.4" fill="#fff" stroke="#e0222c" stroke-width="1.55"/>
<circle cx="78.4" cy="270.61" r="2.4" fill="#fff" stroke="#e0222c" stroke-width="1.55"/>
<line x1="211.2" y1="173.6" x2="211.2" y2="271.9" stroke="#111" stroke-width="1.5"/>
<line x1="207" y1="271.3" x2="338.2" y2="271.3" stroke="#111" stroke-width="1.4"/>
<line x1="207" y1="271.3" x2="211.2" y2="271.3" stroke="#111" stroke-width="1.1"/>
<text x="203.9" y="274.2" font-size="8.1" text-anchor="end" fill="#262626" stroke="#262626" stroke-width="0.18">0</text>
<line x1="207" y1="261.59" x2="211.2" y2="261.59" stroke="#111" stroke-width="1.1"/>
<text x="203.9" y="264.49" font-size="8.1" text-anchor="end" fill="#262626" stroke="#262626" stroke-width="0.18">10</text>
<line x1="207" y1="251.88" x2="211.2" y2="251.88" stroke="#111" stroke-width="1.1"/>
<text x="203.9" y="254.78" font-size="8.1" text-anchor="end" fill="#262626" stroke="#262626" stroke-width="0.18">20</text>
<line x1="207" y1="242.17" x2="211.2" y2="242.17" stroke="#111" stroke-width="1.1"/>
<text x="203.9" y="245.07" font-size="8.1" text-anchor="end" fill="#262626" stroke="#262626" stroke-width="0.18">30</text>
<line x1="207" y1="232.46" x2="211.2" y2="232.46" stroke="#111" stroke-width="1.1"/>
<text x="203.9" y="235.36" font-size="8.1" text-anchor="end" fill="#262626" stroke="#262626" stroke-width="0.18">40</text>
<line x1="207" y1="222.75" x2="211.2" y2="222.75" stroke="#111" stroke-width="1.1"/>
<text x="203.9" y="225.65" font-size="8.1" text-anchor="end" fill="#262626" stroke="#262626" stroke-width="0.18">50</text>
<line x1="207" y1="213.04" x2="211.2" y2="213.04" stroke="#111" stroke-width="1.1"/>
<text x="203.9" y="215.94" font-size="8.1" text-anchor="end" fill="#262626" stroke="#262626" stroke-width="0.18">60</text>
<line x1="207" y1="203.33" x2="211.2" y2="203.33" stroke="#111" stroke-width="1.1"/>
<text x="203.9" y="206.23" font-size="8.1" text-anchor="end" fill="#262626" stroke="#262626" stroke-width="0.18">70</text>
<line x1="207" y1="193.62" x2="211.2" y2="193.62" stroke="#111" stroke-width="1.1"/>
<text x="203.9" y="196.52" font-size="8.1" text-anchor="end" fill="#262626" stroke="#262626" stroke-width="0.18">80</text>
<line x1="207" y1="183.91" x2="211.2" y2="183.91" stroke="#111" stroke-width="1.1"/>
<text x="203.9" y="186.81" font-size="8.1" text-anchor="end" fill="#262626" stroke="#262626" stroke-width="0.18">90</text>
<line x1="207" y1="174.2" x2="211.2" y2="174.2" stroke="#111" stroke-width="1.1"/>
<text x="203.9" y="177.1" font-size="8.1" text-anchor="end" fill="#262626" stroke="#262626" stroke-width="0.18">100</text>
<line x1="211.2" y1="271.3" x2="211.2" y2="275.1" stroke="#111" stroke-width="1.1"/>
<text x="211.2" y="282.6" font-size="8.1" text-anchor="middle" fill="#262626" stroke="#262626" stroke-width="0.18">4</text>
<line x1="232.7" y1="271.3" x2="232.7" y2="275.1" stroke="#111" stroke-width="1.1"/>
<text x="232.7" y="282.6" font-size="8.1" text-anchor="middle" fill="#262626" stroke="#262626" stroke-width="0.18">8</text>
<line x1="253.9" y1="271.3" x2="253.9" y2="275.1" stroke="#111" stroke-width="1.1"/>
<text x="253.9" y="282.6" font-size="8.1" text-anchor="middle" fill="#262626" stroke="#262626" stroke-width="0.18">12</text>
<line x1="295.4" y1="271.3" x2="295.4" y2="275.1" stroke="#111" stroke-width="1.1"/>
<text x="295.4" y="282.6" font-size="8.1" text-anchor="middle" fill="#262626" stroke="#262626" stroke-width="0.18">20</text>
<line x1="337.6" y1="271.3" x2="337.6" y2="275.1" stroke="#111" stroke-width="1.1"/>
<text x="337.6" y="282.6" font-size="8.1" text-anchor="middle" fill="#262626" stroke="#262626" stroke-width="0.18">28</text>
<text x="277.4" y="295.4" font-size="9.4" text-anchor="middle" fill="#1a1a1a" stroke="#1a1a1a" stroke-width="0.18">weeks posttransplantation</text>
<text x="188.5" y="222.75" font-size="10.9" text-anchor="middle" fill="#1a1a1a" stroke="#1a1a1a" stroke-width="0.18" transform="rotate(-90 188.5 222.75)">T cell (%)</text>
<path d="M211.2,266.44 L232.7,237.31 L253.9,219.64 L337.6,202.36" fill="none" stroke="#111" stroke-width="1.45" stroke-linejoin="round"/>
<path d="M211.2,268.39 L232.7,239.26 L253.9,230.03 L337.6,221.78" fill="none" stroke="#111" stroke-width="1.45" stroke-linejoin="round"/>
<path d="M211.2,267.42 L232.7,240.52 L253.9,235.96" fill="none" stroke="#111" stroke-width="1.45" stroke-linejoin="round"/>
<path d="M211.2,269.36 L232.7,244.11 L253.9,239.16" fill="none" stroke="#111" stroke-width="1.45" stroke-linejoin="round"/>
<path d="M211.2,265.47 L232.7,248.97 L253.9,243.04" fill="none" stroke="#111" stroke-width="1.45" stroke-linejoin="round"/>
<path d="M211.2,270.33 L232.7,257.41 L253.9,257.41" fill="none" stroke="#111" stroke-width="1.45" stroke-linejoin="round"/>
<path d="M211.2,268.39 L232.7,242.17 L253.9,238.29" fill="none" stroke="#111" stroke-width="1.45" stroke-linejoin="round"/>
<circle cx="211.2" cy="266.44" r="2.4" fill="#fff" stroke="#111" stroke-width="1.55"/>
<circle cx="232.7" cy="237.31" r="2.4" fill="#fff" stroke="#111" stroke-width="1.55"/>
<circle cx="253.9" cy="219.64" r="2.4" fill="#fff" stroke="#111" stroke-width="1.55"/>
<circle cx="337.6" cy="202.36" r="2.4" fill="#fff" stroke="#111" stroke-width="1.55"/>
<circle cx="211.2" cy="268.39" r="2.4" fill="#fff" stroke="#111" stroke-width="1.55"/>
<circle cx="232.7" cy="239.26" r="2.4" fill="#fff" stroke="#111" stroke-width="1.55"/>
<circle cx="253.9" cy="230.03" r="2.4" fill="#fff" stroke="#111" stroke-width="1.55"/>
<circle cx="337.6" cy="221.78" r="2.4" fill="#fff" stroke="#111" stroke-width="1.55"/>
<circle cx="211.2" cy="267.42" r="2.4" fill="#fff" stroke="#111" stroke-width="1.55"/>
<circle cx="232.7" cy="240.52" r="2.4" fill="#fff" stroke="#111" stroke-width="1.55"/>
<circle cx="253.9" cy="235.96" r="2.4" fill="#fff" stroke="#111" stroke-width="1.55"/>
<circle cx="211.2" cy="269.36" r="2.4" fill="#fff" stroke="#111" stroke-width="1.55"/>
<circle cx="232.7" cy="244.11" r="2.4" fill="#fff" stroke="#111" stroke-width="1.55"/>
<circle cx="253.9" cy="239.16" r="2.4" fill="#fff" stroke="#111" stroke-width="1.55"/>
<circle cx="211.2" cy="265.47" r="2.4" fill="#fff" stroke="#111" stroke-width="1.55"/>
<circle cx="232.7" cy="248.97" r="2.4" fill="#fff" stroke="#111" stroke-width="1.55"/>
<circle cx="253.9" cy="243.04" r="2.4" fill="#fff" stroke="#111" stroke-width="1.55"/>
<circle cx="211.2" cy="270.33" r="2.4" fill="#fff" stroke="#111" stroke-width="1.55"/>
<circle cx="232.7" cy="257.41" r="2.4" fill="#fff" stroke="#111" stroke-width="1.55"/>
<circle cx="253.9" cy="257.41" r="2.4" fill="#fff" stroke="#111" stroke-width="1.55"/>
<circle cx="211.2" cy="268.39" r="2.4" fill="#fff" stroke="#111" stroke-width="1.55"/>
<circle cx="232.7" cy="242.17" r="2.4" fill="#fff" stroke="#111" stroke-width="1.55"/>
<circle cx="253.9" cy="238.29" r="2.4" fill="#fff" stroke="#111" stroke-width="1.55"/>
<path d="M211.2,259.65 L232.7,270.43 L253.9,269.75 L295.4,269.36 L337.6,268.39" fill="none" stroke="#e23a44" stroke-width="1.3" stroke-linejoin="round"/>
<path d="M211.2,270.81 L232.7,254.79 L253.9,250.33" fill="none" stroke="#e23a44" stroke-width="1.3" stroke-linejoin="round"/>
<path d="M211.2,270.33 L232.7,254.79 L253.9,252.17" fill="none" stroke="#e23a44" stroke-width="1.3" stroke-linejoin="round"/>
<path d="M211.2,270.81 L232.7,270.43 L253.9,269.75" fill="none" stroke="#e23a44" stroke-width="1.3" stroke-linejoin="round"/>
<circle cx="211.2" cy="259.65" r="2.4" fill="#fff" stroke="#e0222c" stroke-width="1.55"/>
<circle cx="232.7" cy="270.43" r="2.4" fill="#fff" stroke="#e0222c" stroke-width="1.55"/>
<circle cx="253.9" cy="269.75" r="2.4" fill="#fff" stroke="#e0222c" stroke-width="1.55"/>
<circle cx="295.4" cy="269.36" r="2.4" fill="#fff" stroke="#e0222c" stroke-width="1.55"/>
<circle cx="337.6" cy="268.39" r="2.4" fill="#fff" stroke="#e0222c" stroke-width="1.55"/>
<circle cx="211.2" cy="270.81" r="2.4" fill="#fff" stroke="#e0222c" stroke-width="1.55"/>
<circle cx="232.7" cy="254.79" r="2.4" fill="#fff" stroke="#e0222c" stroke-width="1.55"/>
<circle cx="253.9" cy="250.33" r="2.4" fill="#fff" stroke="#e0222c" stroke-width="1.55"/>
<circle cx="211.2" cy="270.33" r="2.4" fill="#fff" stroke="#e0222c" stroke-width="1.55"/>
<circle cx="232.7" cy="254.79" r="2.4" fill="#fff" stroke="#e0222c" stroke-width="1.55"/>
<circle cx="253.9" cy="252.17" r="2.4" fill="#fff" stroke="#e0222c" stroke-width="1.55"/>
<circle cx="211.2" cy="270.81" r="2.4" fill="#fff" stroke="#e0222c" stroke-width="1.55"/>
<circle cx="232.7" cy="270.43" r="2.4" fill="#fff" stroke="#e0222c" stroke-width="1.55"/>
<circle cx="253.9" cy="269.75" r="2.4" fill="#fff" stroke="#e0222c" stroke-width="1.55"/>
<rect x="64.8" y="6.8" width="143.2" height="17.8" fill="none" stroke="#111" stroke-width="1.4"/>
<line x1="74.4" y1="16.3" x2="87" y2="16.3" stroke="#111" stroke-width="1.3"/>
<circle cx="80.4" cy="16.3" r="2.9" fill="none" stroke="#111" stroke-width="1.4"/>
<text x="91.4" y="20.3" font-size="11.2" font-style="italic" fill="#222">Ezh2<tspan font-size="7.2" dy="-4.3">+/+</tspan></text>
<line x1="140.6" y1="16.3" x2="154" y2="16.3" stroke="#e0222c" stroke-width="1.3"/>
<circle cx="147.3" cy="16.3" r="2.9" fill="none" stroke="#e0222c" stroke-width="1.4"/>
<text x="159.2" y="20.3" font-size="11.2" font-style="italic" fill="#222">Ezh2<tspan font-size="7.2" dy="-4.3" font-style="normal">&#916;/&#916;</tspan></text>
<text x="416.45" y="18.7" font-size="11" text-anchor="middle" fill="#1a1a1a" stroke="#1a1a1a" stroke-width="0.18">Total</text>
<text x="418" y="31.5" font-size="11" text-anchor="middle" fill="#1a1a1a" stroke="#1a1a1a" stroke-width="0.18">(%)</text>
<text x="488" y="18.8" font-size="11" text-anchor="middle" fill="#1a1a1a" stroke="#1a1a1a" stroke-width="0.18">Myeloid</text>
<text x="489.6" y="31.6" font-size="11" text-anchor="middle" fill="#1a1a1a" stroke="#1a1a1a" stroke-width="0.18">(%)</text>
<text x="416" y="168.8" font-size="11" text-anchor="middle" fill="#1a1a1a" stroke="#1a1a1a" stroke-width="0.18">B cell</text>
<text x="418" y="181.6" font-size="11" text-anchor="middle" fill="#1a1a1a" stroke="#1a1a1a" stroke-width="0.18">(%)</text>
<text x="489.9" y="168.8" font-size="11" text-anchor="middle" fill="#1a1a1a" stroke="#1a1a1a" stroke-width="0.18">T cell</text>
<text x="489.6" y="181.6" font-size="11" text-anchor="middle" fill="#1a1a1a" stroke="#1a1a1a" stroke-width="0.18">(%)</text>
<line x1="391.8" y1="43.5" x2="391.8" y2="134.7" stroke="#111" stroke-width="1.4"/>
<line x1="388.8" y1="134.1" x2="443.1" y2="134.1" stroke="#111" stroke-width="1.4"/>
<line x1="388.8" y1="134.1" x2="391.8" y2="134.1" stroke="#111" stroke-width="1.1"/>
<text x="386.4" y="137.54" font-size="8.6" text-anchor="end" fill="#1a1a1a" stroke="#1a1a1a" stroke-width="0.18">0</text>
<line x1="389.5" y1="125.1" x2="391.8" y2="125.1" stroke="#111" stroke-width="1"/>
<line x1="388.8" y1="116.1" x2="391.8" y2="116.1" stroke="#111" stroke-width="1.1"/>
<text x="386.4" y="119.54" font-size="8.6" text-anchor="end" fill="#1a1a1a" stroke="#1a1a1a" stroke-width="0.18">20</text>
<line x1="389.5" y1="107.1" x2="391.8" y2="107.1" stroke="#111" stroke-width="1"/>
<line x1="388.8" y1="98.1" x2="391.8" y2="98.1" stroke="#111" stroke-width="1.1"/>
<text x="386.4" y="101.54" font-size="8.6" text-anchor="end" fill="#1a1a1a" stroke="#1a1a1a" stroke-width="0.18">40</text>
<line x1="389.5" y1="89.1" x2="391.8" y2="89.1" stroke="#111" stroke-width="1"/>
<line x1="388.8" y1="80.1" x2="391.8" y2="80.1" stroke="#111" stroke-width="1.1"/>
<text x="386.4" y="83.54" font-size="8.6" text-anchor="end" fill="#1a1a1a" stroke="#1a1a1a" stroke-width="0.18">60</text>
<line x1="389.5" y1="71.1" x2="391.8" y2="71.1" stroke="#111" stroke-width="1"/>
<line x1="388.8" y1="62.1" x2="391.8" y2="62.1" stroke="#111" stroke-width="1.1"/>
<text x="386.4" y="65.54" font-size="8.6" text-anchor="end" fill="#1a1a1a" stroke="#1a1a1a" stroke-width="0.18">80</text>
<line x1="389.5" y1="53.1" x2="391.8" y2="53.1" stroke="#111" stroke-width="1"/>
<line x1="388.8" y1="44.1" x2="391.8" y2="44.1" stroke="#111" stroke-width="1.1"/>
<text x="386.4" y="47.54" font-size="8.6" text-anchor="end" fill="#1a1a1a" stroke="#1a1a1a" stroke-width="0.18">100</text>
<rect x="399.2" y="79.65" width="15.6" height="54.45" fill="#1c1c1c"/>
<line x1="406.9" y1="79.65" x2="406.9" y2="65.25" stroke="#111" stroke-width="1.3"/>
<line x1="402.2" y1="65.25" x2="411.6" y2="65.25" stroke="#111" stroke-width="1.3"/>
<rect x="420.6" y="118.5" width="14.2" height="15.6" fill="#cdcfdc" stroke="#111" stroke-width="1.3"/>
<line x1="427.7" y1="117.9" x2="427.7" y2="108.45" stroke="#111" stroke-width="1.3"/>
<line x1="423" y1="108.45" x2="432.4" y2="108.45" stroke="#111" stroke-width="1.3"/>
<path d="M406.8,61.6 L406.8,55.3 L427.8,55.3 L427.8,101.5" fill="none" stroke="#111" stroke-width="1.3"/>
<text x="417.3" y="56.4" font-size="10.6" text-anchor="middle" fill="#111" stroke="#111" stroke-width="0.35">**</text>
<text x="405.6" y="150.2" font-size="10.6" text-anchor="middle" fill="#1a1a1a" stroke="#1a1a1a" stroke-width="0.18">+/+</text>
<text x="427.8" y="150.2" font-size="10.4" text-anchor="middle" fill="#1a1a1a" stroke="#1a1a1a" stroke-width="0.18">&#916;/&#916;</text>
<line x1="462.6" y1="43.5" x2="462.6" y2="134.7" stroke="#111" stroke-width="1.4"/>
<line x1="459.6" y1="134.1" x2="515.5" y2="134.1" stroke="#111" stroke-width="1.4"/>
<line x1="459.6" y1="134.1" x2="462.6" y2="134.1" stroke="#111" stroke-width="1.1"/>
<text x="457.8" y="137.54" font-size="8.6" text-anchor="end" fill="#1a1a1a" stroke="#1a1a1a" stroke-width="0.18">0</text>
<line x1="460.3" y1="125.1" x2="462.6" y2="125.1" stroke="#111" stroke-width="1"/>
<line x1="459.6" y1="116.1" x2="462.6" y2="116.1" stroke="#111" stroke-width="1.1"/>
<text x="457.8" y="119.54" font-size="8.6" text-anchor="end" fill="#1a1a1a" stroke="#1a1a1a" stroke-width="0.18">20</text>
<line x1="460.3" y1="107.1" x2="462.6" y2="107.1" stroke="#111" stroke-width="1"/>
<line x1="459.6" y1="98.1" x2="462.6" y2="98.1" stroke="#111" stroke-width="1.1"/>
<text x="457.8" y="101.54" font-size="8.6" text-anchor="end" fill="#1a1a1a" stroke="#1a1a1a" stroke-width="0.18">40</text>
<line x1="460.3" y1="89.1" x2="462.6" y2="89.1" stroke="#111" stroke-width="1"/>
<line x1="459.6" y1="80.1" x2="462.6" y2="80.1" stroke="#111" stroke-width="1.1"/>
<text x="457.8" y="83.54" font-size="8.6" text-anchor="end" fill="#1a1a1a" stroke="#1a1a1a" stroke-width="0.18">60</text>
<line x1="460.3" y1="71.1" x2="462.6" y2="71.1" stroke="#111" stroke-width="1"/>
<line x1="459.6" y1="62.1" x2="462.6" y2="62.1" stroke="#111" stroke-width="1.1"/>
<text x="457.8" y="65.54" font-size="8.6" text-anchor="end" fill="#1a1a1a" stroke="#1a1a1a" stroke-width="0.18">80</text>
<line x1="460.3" y1="53.1" x2="462.6" y2="53.1" stroke="#111" stroke-width="1"/>
<line x1="459.6" y1="44.1" x2="462.6" y2="44.1" stroke="#111" stroke-width="1.1"/>
<text x="457.8" y="47.54" font-size="8.6" text-anchor="end" fill="#1a1a1a" stroke="#1a1a1a" stroke-width="0.18">100</text>
<rect x="471.3" y="84.15" width="15.5" height="49.95" fill="#1c1c1c"/>
<line x1="479" y1="84.15" x2="479" y2="60.75" stroke="#111" stroke-width="1.3"/>
<line x1="474.3" y1="60.75" x2="483.7" y2="60.75" stroke="#111" stroke-width="1.3"/>
<rect x="492.6" y="79.35" width="14" height="54.75" fill="#cdcfdc" stroke="#111" stroke-width="1.3"/>
<line x1="499.6" y1="78.75" x2="499.6" y2="57.15" stroke="#111" stroke-width="1.3"/>
<line x1="494.9" y1="57.15" x2="504.3" y2="57.15" stroke="#111" stroke-width="1.3"/>
<text x="478.3" y="150.2" font-size="10.6" text-anchor="middle" fill="#1a1a1a" stroke="#1a1a1a" stroke-width="0.18">+/+</text>
<text x="498.9" y="150.2" font-size="10.4" text-anchor="middle" fill="#1a1a1a" stroke="#1a1a1a" stroke-width="0.18">&#916;/&#916;</text>
<line x1="391.8" y1="193.5" x2="391.8" y2="284.7" stroke="#111" stroke-width="1.4"/>
<line x1="388.8" y1="284.1" x2="444.5" y2="284.1" stroke="#111" stroke-width="1.4"/>
<line x1="388.8" y1="284.1" x2="391.8" y2="284.1" stroke="#111" stroke-width="1.1"/>
<text x="386.4" y="287.54" font-size="8.6" text-anchor="end" fill="#1a1a1a" stroke="#1a1a1a" stroke-width="0.18">0</text>
<line x1="389.5" y1="275.1" x2="391.8" y2="275.1" stroke="#111" stroke-width="1"/>
<line x1="388.8" y1="266.1" x2="391.8" y2="266.1" stroke="#111" stroke-width="1.1"/>
<text x="386.4" y="269.54" font-size="8.6" text-anchor="end" fill="#1a1a1a" stroke="#1a1a1a" stroke-width="0.18">20</text>
<line x1="389.5" y1="257.1" x2="391.8" y2="257.1" stroke="#111" stroke-width="1"/>
<line x1="388.8" y1="248.1" x2="391.8" y2="248.1" stroke="#111" stroke-width="1.1"/>
<text x="386.4" y="251.54" font-size="8.6" text-anchor="end" fill="#1a1a1a" stroke="#1a1a1a" stroke-width="0.18">40</text>
<line x1="389.5" y1="239.1" x2="391.8" y2="239.1" stroke="#111" stroke-width="1"/>
<line x1="388.8" y1="230.1" x2="391.8" y2="230.1" stroke="#111" stroke-width="1.1"/>
<text x="386.4" y="233.54" font-size="8.6" text-anchor="end" fill="#1a1a1a" stroke="#1a1a1a" stroke-width="0.18">60</text>
<line x1="389.5" y1="221.1" x2="391.8" y2="221.1" stroke="#111" stroke-width="1"/>
<line x1="388.8" y1="212.1" x2="391.8" y2="212.1" stroke="#111" stroke-width="1.1"/>
<text x="386.4" y="215.54" font-size="8.6" text-anchor="end" fill="#1a1a1a" stroke="#1a1a1a" stroke-width="0.18">80</text>
<line x1="389.5" y1="203.1" x2="391.8" y2="203.1" stroke="#111" stroke-width="1"/>
<line x1="388.8" y1="194.1" x2="391.8" y2="194.1" stroke="#111" stroke-width="1.1"/>
<text x="386.4" y="197.54" font-size="8.6" text-anchor="end" fill="#1a1a1a" stroke="#1a1a1a" stroke-width="0.18">100</text>
<rect x="400.4" y="212.1" width="15.2" height="72" fill="#1c1c1c"/>
<line x1="408" y1="212.1" x2="408" y2="202.2" stroke="#111" stroke-width="1.3"/>
<line x1="403.3" y1="202.2" x2="412.7" y2="202.2" stroke="#111" stroke-width="1.3"/>
<rect x="421.6" y="277.5" width="14.1" height="6.6" fill="#cdcfdc" stroke="#111" stroke-width="1.3"/>
<line x1="428.6" y1="276.9" x2="428.6" y2="264.3" stroke="#111" stroke-width="1.3"/>
<line x1="423.9" y1="264.3" x2="433.3" y2="264.3" stroke="#111" stroke-width="1.3"/>
<path d="M407.7,198.5 L407.7,192.7 L428.6,192.7 L428.6,257.8" fill="none" stroke="#111" stroke-width="1.3"/>
<text x="418.1" y="193.6" font-size="10.6" text-anchor="middle" fill="#111" stroke="#111" stroke-width="0.35">**</text>
<text x="405.6" y="300.6" font-size="10.6" text-anchor="middle" fill="#1a1a1a" stroke="#1a1a1a" stroke-width="0.18">+/+</text>
<text x="428.2" y="300.6" font-size="10.4" text-anchor="middle" fill="#1a1a1a" stroke="#1a1a1a" stroke-width="0.18">&#916;/&#916;</text>
<line x1="466.8" y1="193.5" x2="466.8" y2="284.7" stroke="#111" stroke-width="1.4"/>
<line x1="463.8" y1="284.1" x2="520.5" y2="284.1" stroke="#111" stroke-width="1.4"/>
<line x1="463.8" y1="284.1" x2="466.8" y2="284.1" stroke="#111" stroke-width="1.1"/>
<text x="461.5" y="287.54" font-size="8.6" text-anchor="end" fill="#1a1a1a" stroke="#1a1a1a" stroke-width="0.18">0</text>
<line x1="464.5" y1="275.1" x2="466.8" y2="275.1" stroke="#111" stroke-width="1"/>
<line x1="463.8" y1="266.1" x2="466.8" y2="266.1" stroke="#111" stroke-width="1.1"/>
<text x="461.5" y="269.54" font-size="8.6" text-anchor="end" fill="#1a1a1a" stroke="#1a1a1a" stroke-width="0.18">20</text>
<line x1="464.5" y1="257.1" x2="466.8" y2="257.1" stroke="#111" stroke-width="1"/>
<line x1="463.8" y1="248.1" x2="466.8" y2="248.1" stroke="#111" stroke-width="1.1"/>
<text x="461.5" y="251.54" font-size="8.6" text-anchor="end" fill="#1a1a1a" stroke="#1a1a1a" stroke-width="0.18">40</text>
<line x1="464.5" y1="239.1" x2="466.8" y2="239.1" stroke="#111" stroke-width="1"/>
<line x1="463.8" y1="230.1" x2="466.8" y2="230.1" stroke="#111" stroke-width="1.1"/>
<text x="461.5" y="233.54" font-size="8.6" text-anchor="end" fill="#1a1a1a" stroke="#1a1a1a" stroke-width="0.18">60</text>
<line x1="464.5" y1="221.1" x2="466.8" y2="221.1" stroke="#111" stroke-width="1"/>
<line x1="463.8" y1="212.1" x2="466.8" y2="212.1" stroke="#111" stroke-width="1.1"/>
<text x="461.5" y="215.54" font-size="8.6" text-anchor="end" fill="#1a1a1a" stroke="#1a1a1a" stroke-width="0.18">80</text>
<line x1="464.5" y1="203.1" x2="466.8" y2="203.1" stroke="#111" stroke-width="1"/>
<line x1="463.8" y1="194.1" x2="466.8" y2="194.1" stroke="#111" stroke-width="1.1"/>
<text x="461.5" y="197.54" font-size="8.6" text-anchor="end" fill="#1a1a1a" stroke="#1a1a1a" stroke-width="0.18">100</text>
<rect x="475" y="252.6" width="15.6" height="31.5" fill="#1c1c1c"/>
<line x1="482.8" y1="252.6" x2="482.8" y2="240.9" stroke="#111" stroke-width="1.3"/>
<line x1="478.1" y1="240.9" x2="487.5" y2="240.9" stroke="#111" stroke-width="1.3"/>
<rect x="497" y="280.83" width="13.9" height="3.27" fill="#cdcfdc" stroke="#111" stroke-width="1.3"/>
<line x1="503.6" y1="280.23" x2="503.6" y2="272.4" stroke="#111" stroke-width="1.3"/>
<line x1="499.1" y1="272.4" x2="508.1" y2="272.4" stroke="#111" stroke-width="1.3"/>
<path d="M482.8,236.2 L482.8,229.6 L503.3,229.6 L503.3,268.4" fill="none" stroke="#111" stroke-width="1.3"/>
<text x="493" y="231" font-size="10.6" text-anchor="middle" fill="#111" stroke="#111" stroke-width="0.35">**</text>
<text x="483.8" y="300.6" font-size="10.6" text-anchor="middle" fill="#1a1a1a" stroke="#1a1a1a" stroke-width="0.18">+/+</text>
<text x="504.7" y="300.6" font-size="10.4" text-anchor="middle" fill="#1a1a1a" stroke="#1a1a1a" stroke-width="0.18">&#916;/&#916;</text>
<text x="105" y="340.3" font-size="10.8" text-anchor="middle" fill="#1a1a1a" stroke="#1a1a1a" stroke-width="0.18">Exp. 1</text>
<line x1="24.1" y1="343.9" x2="195.5" y2="343.9" stroke="#111" stroke-width="1.5"/>
<text x="302" y="340" font-size="10.8" text-anchor="middle" fill="#1a1a1a" stroke="#1a1a1a" stroke-width="0.18">Exp. 2</text>
<line x1="223.4" y1="343.6" x2="391" y2="343.6" stroke="#111" stroke-width="1.5"/>
<text x="63.1" y="359.1" font-size="10.6" text-anchor="middle" fill="#1a1a1a" stroke="#1a1a1a" stroke-width="0.18">Total (%)</text>
<text x="150.8" y="359.1" font-size="10.6" text-anchor="middle" fill="#1a1a1a" stroke="#1a1a1a" stroke-width="0.18">Myeloid (%)</text>
<text x="264.3" y="359.1" font-size="10.6" text-anchor="middle" fill="#1a1a1a" stroke="#1a1a1a" stroke-width="0.18">Total (%)</text>
<text x="352.7" y="359.1" font-size="10.6" text-anchor="middle" fill="#1a1a1a" stroke="#1a1a1a" stroke-width="0.18">Myeloid (%)</text>
<line x1="25.5" y1="373.2" x2="25.5" y2="463.8" stroke="#111" stroke-width="1.4"/>
<line x1="22.7" y1="463.2" x2="95.8" y2="463.2" stroke="#111" stroke-width="1.4"/>
<line x1="22.7" y1="463.2" x2="25.5" y2="463.2" stroke="#111" stroke-width="1.1"/>
<text x="19.7" y="466.72" font-size="8.8" text-anchor="end" fill="#1a1a1a" stroke="#1a1a1a" stroke-width="0.18">0</text>
<line x1="23.1" y1="454.26" x2="25.5" y2="454.26" stroke="#111" stroke-width="1"/>
<line x1="22.7" y1="445.32" x2="25.5" y2="445.32" stroke="#111" stroke-width="1.1"/>
<text x="19.7" y="448.84" font-size="8.8" text-anchor="end" fill="#1a1a1a" stroke="#1a1a1a" stroke-width="0.18">20</text>
<line x1="23.1" y1="436.38" x2="25.5" y2="436.38" stroke="#111" stroke-width="1"/>
<line x1="22.7" y1="427.44" x2="25.5" y2="427.44" stroke="#111" stroke-width="1.1"/>
<text x="19.7" y="430.96" font-size="8.8" text-anchor="end" fill="#1a1a1a" stroke="#1a1a1a" stroke-width="0.18">40</text>
<line x1="23.1" y1="418.5" x2="25.5" y2="418.5" stroke="#111" stroke-width="1"/>
<line x1="22.7" y1="409.56" x2="25.5" y2="409.56" stroke="#111" stroke-width="1.1"/>
<text x="19.7" y="413.08" font-size="8.8" text-anchor="end" fill="#1a1a1a" stroke="#1a1a1a" stroke-width="0.18">60</text>
<line x1="23.1" y1="400.62" x2="25.5" y2="400.62" stroke="#111" stroke-width="1"/>
<line x1="22.7" y1="391.68" x2="25.5" y2="391.68" stroke="#111" stroke-width="1.1"/>
<text x="19.7" y="395.2" font-size="8.8" text-anchor="end" fill="#1a1a1a" stroke="#1a1a1a" stroke-width="0.18">80</text>
<line x1="23.1" y1="382.74" x2="25.5" y2="382.74" stroke="#111" stroke-width="1"/>
<line x1="22.7" y1="373.8" x2="25.5" y2="373.8" stroke="#111" stroke-width="1.1"/>
<text x="19.7" y="377.32" font-size="8.8" text-anchor="end" fill="#1a1a1a" stroke="#1a1a1a" stroke-width="0.18">100</text>
<rect x="30" y="388.73" width="13.6" height="74.47" fill="#1c1c1c"/>
<rect x="44.2" y="400.33" width="11.7" height="62.87" fill="#fff" stroke="#111" stroke-width="1.3"/>
<line x1="50.05" y1="399.73" x2="50.05" y2="383.63" stroke="#111" stroke-width="1.3"/>
<line x1="45.65" y1="383.63" x2="54.45" y2="383.63" stroke="#111" stroke-width="1.3"/>
<rect x="62.9" y="443" width="13" height="20.2" fill="#1c1c1c"/>
<rect x="76.5" y="430.54" width="12.4" height="32.66" fill="#fff" stroke="#111" stroke-width="1.3"/>
<line x1="82.7" y1="429.94" x2="82.7" y2="425.65" stroke="#111" stroke-width="1.3"/>
<line x1="78.3" y1="425.65" x2="87.1" y2="425.65" stroke="#111" stroke-width="1.3"/>
<text x="43.5" y="479.2" font-size="10.6" text-anchor="middle" fill="#1a1a1a" stroke="#1a1a1a" stroke-width="0.18">+/+</text>
<text x="76.2" y="479.2" font-size="10.4" text-anchor="middle" fill="#1a1a1a" stroke="#1a1a1a" stroke-width="0.18">&#916;/&#916;</text>
<path d="M49.9,378.5 L49.9,371 L82.3,371 L82.3,417.9" fill="none" stroke="#111" stroke-width="1.3"/>
<text x="66.6" y="372.6" font-size="10.6" text-anchor="middle" fill="#111" stroke="#111" stroke-width="0.35">**</text>
<line x1="119" y1="373.2" x2="119" y2="463.8" stroke="#111" stroke-width="1.4"/>
<line x1="116.2" y1="463.2" x2="190.8" y2="463.2" stroke="#111" stroke-width="1.4"/>
<line x1="116.2" y1="463.2" x2="119" y2="463.2" stroke="#111" stroke-width="1.1"/>
<text x="113.2" y="466.72" font-size="8.8" text-anchor="end" fill="#1a1a1a" stroke="#1a1a1a" stroke-width="0.18">0</text>
<line x1="116.6" y1="454.26" x2="119" y2="454.26" stroke="#111" stroke-width="1"/>
<line x1="116.2" y1="445.32" x2="119" y2="445.32" stroke="#111" stroke-width="1.1"/>
<text x="113.2" y="448.84" font-size="8.8" text-anchor="end" fill="#1a1a1a" stroke="#1a1a1a" stroke-width="0.18">20</text>
<line x1="116.6" y1="436.38" x2="119" y2="436.38" stroke="#111" stroke-width="1"/>
<line x1="116.2" y1="427.44" x2="119" y2="427.44" stroke="#111" stroke-width="1.1"/>
<text x="113.2" y="430.96" font-size="8.8" text-anchor="end" fill="#1a1a1a" stroke="#1a1a1a" stroke-width="0.18">40</text>
<line x1="116.6" y1="418.5" x2="119" y2="418.5" stroke="#111" stroke-width="1"/>
<line x1="116.2" y1="409.56" x2="119" y2="409.56" stroke="#111" stroke-width="1.1"/>
<text x="113.2" y="413.08" font-size="8.8" text-anchor="end" fill="#1a1a1a" stroke="#1a1a1a" stroke-width="0.18">60</text>
<line x1="116.6" y1="400.62" x2="119" y2="400.62" stroke="#111" stroke-width="1"/>
<line x1="116.2" y1="391.68" x2="119" y2="391.68" stroke="#111" stroke-width="1.1"/>
<text x="113.2" y="395.2" font-size="8.8" text-anchor="end" fill="#1a1a1a" stroke="#1a1a1a" stroke-width="0.18">80</text>
<line x1="116.6" y1="382.74" x2="119" y2="382.74" stroke="#111" stroke-width="1"/>
<line x1="116.2" y1="373.8" x2="119" y2="373.8" stroke="#111" stroke-width="1.1"/>
<text x="113.2" y="377.32" font-size="8.8" text-anchor="end" fill="#1a1a1a" stroke="#1a1a1a" stroke-width="0.18">100</text>
<rect x="124.3" y="391.41" width="13.4" height="71.79" fill="#1c1c1c"/>
<rect x="138.3" y="415.7" width="11.4" height="47.5" fill="#fff" stroke="#111" stroke-width="1.3"/>
<line x1="144" y1="415.1" x2="144" y2="386.14" stroke="#111" stroke-width="1.3"/>
<line x1="139.6" y1="386.14" x2="148.4" y2="386.14" stroke="#111" stroke-width="1.3"/>
<rect x="156.6" y="392.13" width="13.8" height="71.07" fill="#1c1c1c"/>
<rect x="171" y="383.07" width="11.8" height="80.13" fill="#fff" stroke="#111" stroke-width="1.3"/>
<line x1="176.9" y1="382.47" x2="176.9" y2="380.06" stroke="#111" stroke-width="1.3"/>
<line x1="172.5" y1="380.06" x2="181.3" y2="380.06" stroke="#111" stroke-width="1.3"/>
<text x="138.3" y="479.2" font-size="10.6" text-anchor="middle" fill="#1a1a1a" stroke="#1a1a1a" stroke-width="0.18">+/+</text>
<text x="170.4" y="479.2" font-size="10.4" text-anchor="middle" fill="#1a1a1a" stroke="#1a1a1a" stroke-width="0.18">&#916;/&#916;</text>
<path d="M143.1,376.5 L143.1,371.9 L176.1,371.9 L176.1,375.9" fill="none" stroke="#111" stroke-width="1.3"/>
<text x="160.3" y="372.7" font-size="10.6" text-anchor="middle" fill="#111" stroke="#111" stroke-width="0.35">*</text>
<line x1="226" y1="373.2" x2="226" y2="463.8" stroke="#111" stroke-width="1.4"/>
<line x1="223.2" y1="463.2" x2="294.6" y2="463.2" stroke="#111" stroke-width="1.4"/>
<line x1="223.2" y1="463.2" x2="226" y2="463.2" stroke="#111" stroke-width="1.1"/>
<text x="220.2" y="466.72" font-size="8.8" text-anchor="end" fill="#1a1a1a" stroke="#1a1a1a" stroke-width="0.18">0</text>
<line x1="223.6" y1="454.26" x2="226" y2="454.26" stroke="#111" stroke-width="1"/>
<line x1="223.2" y1="445.32" x2="226" y2="445.32" stroke="#111" stroke-width="1.1"/>
<text x="220.2" y="448.84" font-size="8.8" text-anchor="end" fill="#1a1a1a" stroke="#1a1a1a" stroke-width="0.18">20</text>
<line x1="223.6" y1="436.38" x2="226" y2="436.38" stroke="#111" stroke-width="1"/>
<line x1="223.2" y1="427.44" x2="226" y2="427.44" stroke="#111" stroke-width="1.1"/>
<text x="220.2" y="430.96" font-size="8.8" text-anchor="end" fill="#1a1a1a" stroke="#1a1a1a" stroke-width="0.18">40</text>
<line x1="223.6" y1="418.5" x2="226" y2="418.5" stroke="#111" stroke-width="1"/>
<line x1="223.2" y1="409.56" x2="226" y2="409.56" stroke="#111" stroke-width="1.1"/>
<text x="220.2" y="413.08" font-size="8.8" text-anchor="end" fill="#1a1a1a" stroke="#1a1a1a" stroke-width="0.18">60</text>
<line x1="223.6" y1="400.62" x2="226" y2="400.62" stroke="#111" stroke-width="1"/>
<line x1="223.2" y1="391.68" x2="226" y2="391.68" stroke="#111" stroke-width="1.1"/>
<text x="220.2" y="395.2" font-size="8.8" text-anchor="end" fill="#1a1a1a" stroke="#1a1a1a" stroke-width="0.18">80</text>
<line x1="223.6" y1="382.74" x2="226" y2="382.74" stroke="#111" stroke-width="1"/>
<line x1="223.2" y1="373.8" x2="226" y2="373.8" stroke="#111" stroke-width="1.1"/>
<text x="220.2" y="377.32" font-size="8.8" text-anchor="end" fill="#1a1a1a" stroke="#1a1a1a" stroke-width="0.18">100</text>
<rect x="230.8" y="407.32" width="13.5" height="55.88" fill="#1c1c1c"/>
<rect x="244.9" y="442.34" width="12.3" height="20.86" fill="#fff" stroke="#111" stroke-width="1.3"/>
<line x1="251.05" y1="441.74" x2="251.05" y2="422.97" stroke="#111" stroke-width="1.3"/>
<line x1="246.65" y1="422.97" x2="255.45" y2="422.97" stroke="#111" stroke-width="1.3"/>
<rect x="263.5" y="433.7" width="13.7" height="29.5" fill="#1c1c1c"/>
<rect x="277.8" y="449.5" width="11.4" height="13.7" fill="#fff" stroke="#111" stroke-width="1.3"/>
<line x1="283.5" y1="448.9" x2="283.5" y2="443.08" stroke="#111" stroke-width="1.3"/>
<line x1="279.1" y1="443.08" x2="287.9" y2="443.08" stroke="#111" stroke-width="1.3"/>
<text x="244.5" y="479.2" font-size="10.6" text-anchor="middle" fill="#1a1a1a" stroke="#1a1a1a" stroke-width="0.18">+/+</text>
<text x="277.7" y="479.2" font-size="10.4" text-anchor="middle" fill="#1a1a1a" stroke="#1a1a1a" stroke-width="0.18">&#916;/&#916;</text>
<line x1="318.3" y1="373.2" x2="318.3" y2="463.8" stroke="#111" stroke-width="1.4"/>
<line x1="315.5" y1="463.2" x2="387.1" y2="463.2" stroke="#111" stroke-width="1.4"/>
<line x1="315.5" y1="463.2" x2="318.3" y2="463.2" stroke="#111" stroke-width="1.1"/>
<text x="312.5" y="466.72" font-size="8.8" text-anchor="end" fill="#1a1a1a" stroke="#1a1a1a" stroke-width="0.18">0</text>
<line x1="315.9" y1="454.26" x2="318.3" y2="454.26" stroke="#111" stroke-width="1"/>
<line x1="315.5" y1="445.32" x2="318.3" y2="445.32" stroke="#111" stroke-width="1.1"/>
<text x="312.5" y="448.84" font-size="8.8" text-anchor="end" fill="#1a1a1a" stroke="#1a1a1a" stroke-width="0.18">20</text>
<line x1="315.9" y1="436.38" x2="318.3" y2="436.38" stroke="#111" stroke-width="1"/>
<line x1="315.5" y1="427.44" x2="318.3" y2="427.44" stroke="#111" stroke-width="1.1"/>
<text x="312.5" y="430.96" font-size="8.8" text-anchor="end" fill="#1a1a1a" stroke="#1a1a1a" stroke-width="0.18">40</text>
<line x1="315.9" y1="418.5" x2="318.3" y2="418.5" stroke="#111" stroke-width="1"/>
<line x1="315.5" y1="409.56" x2="318.3" y2="409.56" stroke="#111" stroke-width="1.1"/>
<text x="312.5" y="413.08" font-size="8.8" text-anchor="end" fill="#1a1a1a" stroke="#1a1a1a" stroke-width="0.18">60</text>
<line x1="315.9" y1="400.62" x2="318.3" y2="400.62" stroke="#111" stroke-width="1"/>
<line x1="315.5" y1="391.68" x2="318.3" y2="391.68" stroke="#111" stroke-width="1.1"/>
<text x="312.5" y="395.2" font-size="8.8" text-anchor="end" fill="#1a1a1a" stroke="#1a1a1a" stroke-width="0.18">80</text>
<line x1="315.9" y1="382.74" x2="318.3" y2="382.74" stroke="#111" stroke-width="1"/>
<line x1="315.5" y1="373.8" x2="318.3" y2="373.8" stroke="#111" stroke-width="1.1"/>
<text x="312.5" y="377.32" font-size="8.8" text-anchor="end" fill="#1a1a1a" stroke="#1a1a1a" stroke-width="0.18">100</text>
<rect x="322.8" y="417.16" width="13.8" height="46.04" fill="#1c1c1c"/>
<rect x="337.2" y="444.4" width="12" height="18.8" fill="#fff" stroke="#111" stroke-width="1.3"/>
<line x1="343.2" y1="443.8" x2="343.2" y2="410.01" stroke="#111" stroke-width="1.3"/>
<line x1="338.8" y1="410.01" x2="347.6" y2="410.01" stroke="#111" stroke-width="1.3"/>
<rect x="356" y="392.13" width="13.5" height="71.07" fill="#1c1c1c"/>
<rect x="370.1" y="425.36" width="11.4" height="37.84" fill="#fff" stroke="#111" stroke-width="1.3"/>
<line x1="375.8" y1="424.76" x2="375.8" y2="413.31" stroke="#111" stroke-width="1.3"/>
<line x1="371.4" y1="413.31" x2="380.2" y2="413.31" stroke="#111" stroke-width="1.3"/>
<text x="338.3" y="479.2" font-size="10.6" text-anchor="middle" fill="#1a1a1a" stroke="#1a1a1a" stroke-width="0.18">+/+</text>
<text x="369.6" y="479.2" font-size="10.4" text-anchor="middle" fill="#1a1a1a" stroke="#1a1a1a" stroke-width="0.18">&#916;/&#916;</text>
<rect x="31.6" y="489.4" width="10.9" height="12" fill="#1c1c1c"/>
<text x="46" y="498.7" font-size="10.2" text-anchor="start" fill="#1a1a1a" stroke="#1a1a1a" stroke-width="0.18">1st BMT</text>
<rect x="103.6" y="490.1" width="9.4" height="9.6" fill="#fff" stroke="#111" stroke-width="1.3"/>
<text x="118.7" y="498.7" font-size="10.2" text-anchor="start" fill="#1a1a1a" stroke="#1a1a1a" stroke-width="0.18">2nd BMT</text>
<line x1="453.5" y1="368.2" x2="453.5" y2="463.9" stroke="#111" stroke-width="1.4"/>
<line x1="450.2" y1="463.3" x2="507" y2="463.3" stroke="#111" stroke-width="1.4"/>
<line x1="450.2" y1="463.3" x2="453.5" y2="463.3" stroke="#111" stroke-width="1.1"/>
<text x="448.9" y="467.1" font-size="9.5" text-anchor="end" fill="#1a1a1a" stroke="#1a1a1a" stroke-width="0.18">0</text>
<line x1="450.5" y1="453.85" x2="453.5" y2="453.85" stroke="#111" stroke-width="1"/>
<line x1="450.2" y1="444.4" x2="453.5" y2="444.4" stroke="#111" stroke-width="1.1"/>
<text x="448.9" y="448.2" font-size="9.5" text-anchor="end" fill="#1a1a1a" stroke="#1a1a1a" stroke-width="0.18">20</text>
<line x1="450.5" y1="434.95" x2="453.5" y2="434.95" stroke="#111" stroke-width="1"/>
<line x1="450.2" y1="425.5" x2="453.5" y2="425.5" stroke="#111" stroke-width="1.1"/>
<text x="448.9" y="429.3" font-size="9.5" text-anchor="end" fill="#1a1a1a" stroke="#1a1a1a" stroke-width="0.18">40</text>
<line x1="450.5" y1="416.05" x2="453.5" y2="416.05" stroke="#111" stroke-width="1"/>
<line x1="450.2" y1="406.6" x2="453.5" y2="406.6" stroke="#111" stroke-width="1.1"/>
<text x="448.9" y="410.4" font-size="9.5" text-anchor="end" fill="#1a1a1a" stroke="#1a1a1a" stroke-width="0.18">60</text>
<line x1="450.5" y1="397.15" x2="453.5" y2="397.15" stroke="#111" stroke-width="1"/>
<line x1="450.2" y1="387.7" x2="453.5" y2="387.7" stroke="#111" stroke-width="1.1"/>
<text x="448.9" y="391.5" font-size="9.5" text-anchor="end" fill="#1a1a1a" stroke="#1a1a1a" stroke-width="0.18">80</text>
<line x1="450.5" y1="378.25" x2="453.5" y2="378.25" stroke="#111" stroke-width="1"/>
<line x1="450.2" y1="368.8" x2="453.5" y2="368.8" stroke="#111" stroke-width="1.1"/>
<text x="448.9" y="372.6" font-size="9.5" text-anchor="end" fill="#1a1a1a" stroke="#1a1a1a" stroke-width="0.18">100</text>
<rect x="457.9" y="446.76" width="16.6" height="16.54" fill="#0a0a0a"/>
<line x1="466.2" y1="446.76" x2="466.2" y2="436.84" stroke="#111" stroke-width="1.3"/>
<line x1="461.8" y1="436.84" x2="470.6" y2="436.84" stroke="#111" stroke-width="1.3"/>
<rect x="484.2" y="399.17" width="17" height="64.13" fill="#fff" stroke="#111" stroke-width="1.3"/>
<line x1="492.7" y1="398.57" x2="492.7" y2="385.81" stroke="#111" stroke-width="1.3"/>
<line x1="488.3" y1="385.81" x2="497.1" y2="385.81" stroke="#111" stroke-width="1.3"/>
<path d="M466.2,429.8 L466.2,376 L493.1,376 L493.1,382.9" fill="none" stroke="#111" stroke-width="1.3"/>
<text x="479.4" y="374.7" font-size="10.6" text-anchor="middle" fill="#111" stroke="#111" stroke-width="0.35">**</text>
<text x="466.6" y="479.6" font-size="10.8" text-anchor="middle" fill="#1a1a1a" stroke="#1a1a1a" stroke-width="0.18">+/+</text>
<text x="494.1" y="479.6" font-size="11.2" text-anchor="middle" fill="#1a1a1a" stroke="#1a1a1a" stroke-width="0.18">&#916;/&#916;</text>
<text x="428.3" y="421" font-size="10" stroke="#1a1a1a" stroke-width="0.18" text-anchor="middle" fill="#1a1a1a" transform="rotate(-90 428.3 421)">Chimerism in KSL cells (%)</text>
<text x="0" y="11.9" font-size="14.5" text-anchor="start" fill="#000" font-weight="bold">A</text>
<text x="353.8" y="10.1" font-size="14" text-anchor="start" fill="#000" font-weight="bold">B</text>
<text x="0.5" y="333.2" font-size="14" text-anchor="start" fill="#000" font-weight="bold">C</text>
<text x="403" y="334.5" font-size="14" text-anchor="start" fill="#000" font-weight="bold">D</text>
</svg>
</body></html>
